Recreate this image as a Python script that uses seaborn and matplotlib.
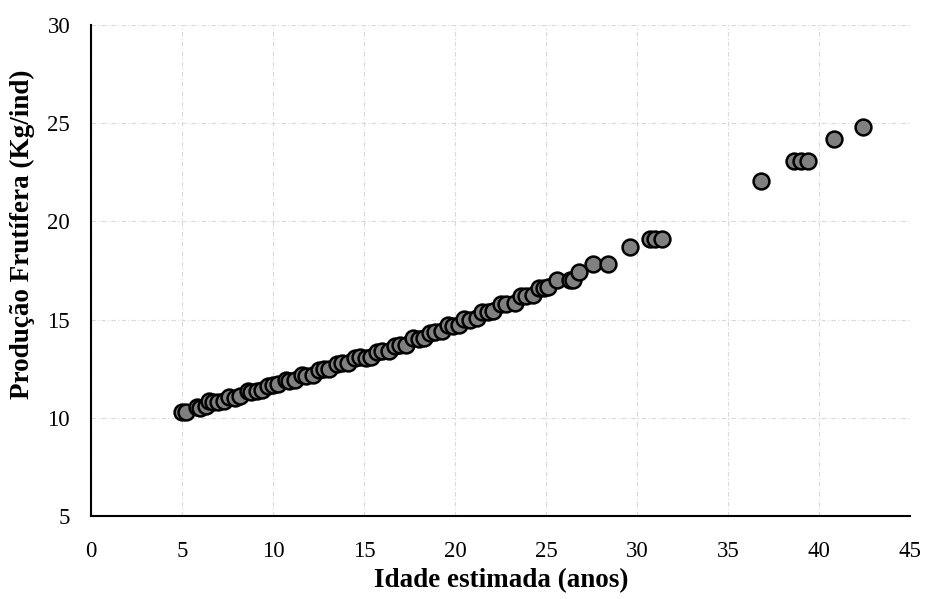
import matplotlib
matplotlib.use("Agg")
import matplotlib.pyplot as plt
import seaborn as sns
import pandas as pd

idade = [5.0, 5.2, 5.8, 6.0, 6.3, 6.5, 6.7, 7.0, 7.3, 7.6, 7.9, 8.2, 8.6, 8.8, 9.1, 9.4,
         9.7, 10.0, 10.3, 10.7, 10.9, 11.2, 11.6, 11.8, 12.2, 12.5, 12.8, 13.1, 13.5, 13.8,
         14.1, 14.5, 14.8, 15.1, 15.4, 15.7, 16.0, 16.4, 16.7, 17.0, 17.3, 17.7, 18.0, 18.3,
         18.6, 18.9, 19.3, 19.6, 19.9, 20.2, 20.5, 20.8, 21.2, 21.5, 21.8, 22.1, 22.5, 22.8,
         23.3, 23.6, 23.9, 24.3, 24.6, 24.9, 25.1, 25.6, 26.3, 26.5, 26.8, 27.6, 28.4, 29.6,
         30.7, 31.0, 31.4, 36.8, 38.6, 39.0, 39.4, 40.8, 42.4]
producao = [10.3, 10.3, 10.55, 10.5, 10.6, 10.85, 10.8, 10.8, 10.85, 11.05, 11.0, 11.1, 11.35, 11.3, 11.35, 11.4,
            11.6, 11.65, 11.7, 11.9, 11.85, 11.95, 12.2, 12.15, 12.2, 12.45, 12.5, 12.5, 12.75, 12.8,
            12.8, 13.05, 13.1, 13.05, 13.1, 13.35, 13.4, 13.4, 13.65, 13.7, 13.7, 14.05, 14.0, 14.05,
            14.3, 14.35, 14.4, 14.7, 14.65, 14.7, 15.05, 15.0, 15.1, 15.4, 15.4, 15.45, 15.8, 15.8,
            15.85, 16.2, 16.2, 16.25, 16.6, 16.6, 16.65, 17.0, 17.0, 17.0, 17.4, 17.85, 17.85, 18.7,
            19.1, 19.1, 19.1, 22.05, 23.1, 23.1, 23.1, 24.2, 24.8]

x_ticks = [0, 5, 10, 15, 20, 25, 30, 35, 40, 45]
y_ticks = [5, 10, 15, 20, 25, 30]

sns.set_style("white")
plt.rcParams['font.family'] = ['Liberation Serif', 'DejaVu Serif']
plt.rcParams['text.color'] = 'black'
plt.rcParams['axes.labelcolor'] = 'black'
plt.rcParams['xtick.color'] = 'black'
plt.rcParams['ytick.color'] = 'black'

df = pd.DataFrame({"x": idade, "y": producao})

fig = plt.figure(figsize=(9.25, 5.99), dpi=100)
ax = fig.add_axes([91/925, 1-516/599, (910-91)/925, (516-25)/599])

sns.scatterplot(data=df, x="x", y="y", ax=ax, s=130, color="#808080",
                edgecolor="black", linewidth=1.8, zorder=3)

ax.set_xlim(0, 45)
ax.set_ylim(5, 30)
ax.set_xticks(x_ticks)
ax.set_yticks(y_ticks)
ax.set_xticklabels([str(v) for v in x_ticks], fontsize=16.5)
ax.set_yticklabels([str(v) for v in y_ticks], fontsize=16.5)
ax.tick_params(axis='x', length=0, pad=18)
ax.tick_params(axis='y', length=0, pad=15)

ax.grid(True, color="#d9d9d9", linestyle=(0, (4, 2, 1, 2)), linewidth=0.8, zorder=0)
ax.set_axisbelow(True)

for s in ["top", "right"]:
    ax.spines[s].set_visible(False)
for s in ["left", "bottom"]:
    ax.spines[s].set_color("black")
    ax.spines[s].set_linewidth(1.5)

ax.set_xlabel("Idade estimada (anos)", fontsize=19.5, fontweight="bold", va="center")
ax.set_ylabel("Produção Frutífera (Kg/ind)", fontsize=19.5, fontweight="bold", va="center")
ax.xaxis.set_label_coords(0.5006, (516 - 581) / 491)
ax.yaxis.set_label_coords((22 - 91) / 819, (516 - 234) / 491)

fig.savefig("out.png", dpi=100)
